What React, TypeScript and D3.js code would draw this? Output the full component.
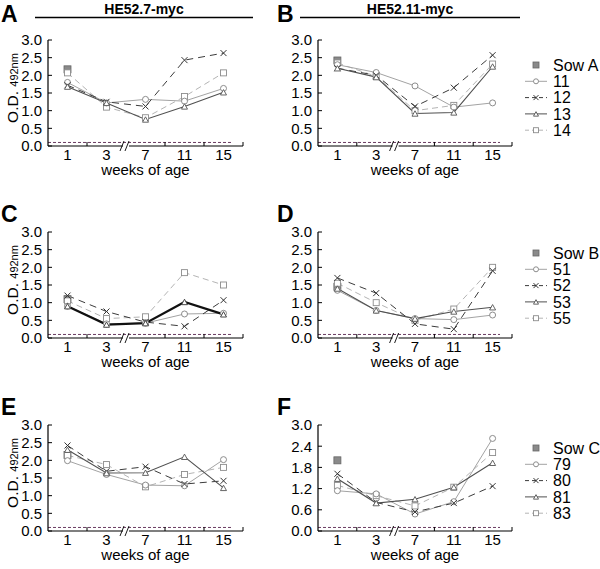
import * as d3 from "d3"

const weeks = ["1", "3", "7", "11", "15"]
const pigsA = ["11", "12", "13", "14"]
const pigsB = ["51", "52", "53", "55"]
const pigsC = ["79", "80", "81", "83"]
const sowNames = ["Sow A", "Sow B", "Sow C"]
const vaccines = ["HE52.7-myc", "HE52.11-myc"]
const letters = ["A", "B", "C", "D", "E", "F"]

// one row per pig, one value per week
const panelA = [
  [1.8, 1.22, 1.32, 1.27, 1.63],
  [1.72, 1.25, 1.12, 2.43, 2.63],
  [1.68, 1.22, 0.75, 1.12, 1.52],
  [2.07, 1.1, 0.8, 1.4, 2.07],
]
const panelB = [
  [2.3, 2.08, 1.7, 1.1, 1.22],
  [2.2, 2.0, 1.12, 1.65, 2.57],
  [2.2, 1.95, 0.92, 0.95, 2.25],
  [2.35, 1.97, 1.0, 1.15, 2.32],
]
const panelC = [
  [0.9, 0.4, 0.42, 0.68, 0.7],
  [1.2, 0.75, 0.45, 0.33, 1.07],
  [0.9, 0.38, 0.42, 1.02, 0.67],
  [1.05, 0.55, 0.6, 1.85, 1.5],
]
const panelD = [
  [1.35, 0.78, 0.55, 0.52, 0.65],
  [1.7, 1.27, 0.4, 0.25, 1.9],
  [1.4, 0.78, 0.55, 0.75, 0.87],
  [1.55, 1.0, 0.5, 0.82, 2.0],
]
const panelE = [
  [1.99, 1.6, 1.3, 1.28, 2.02],
  [2.42, 1.69, 1.82, 1.33, 1.42],
  [2.3, 1.64, 1.65, 2.1, 1.22],
  [2.14, 1.88, 1.25, 1.6, 1.8],
]
const panelF = [
  [1.14, 1.05, 0.48, 0.83, 2.62],
  [1.62, 0.81, 0.54, 0.79, 1.27],
  [1.48, 0.79, 0.9, 1.24, 1.93],
  [1.29, 1.0, 0.71, 1.24, 2.22],
]
const sowValues = [2.17, 2.42, 1.1, 1.45, 2.15, 2.0]
const cutoff = 0.1
const yTicksHalf = [0, 0.5, 1, 1.5, 2, 2.5, 3]
const yTicksF = [0, 0.6, 1.2, 1.8, 2.4, 3]

const FONT = "'Liberation Sans', Arial, sans-serif"

type Style = { stroke: string; dash?: string; width: number; marker: string; mstroke: string }
const styles: Style[] = [
  { stroke: "#a3a3a3", width: 1, marker: "circle", mstroke: "#808080" },
  { stroke: "#3c3c3c", dash: "7,5", width: 1, marker: "x", mstroke: "#333" },
  { stroke: "#505050", width: 1.1, marker: "triangle", mstroke: "#555" },
  { stroke: "#b4b4b4", dash: "6,4", width: 1, marker: "square", mstroke: "#8c8c8c" },
]

const Marker = ({ type, x, y, s, color }: { type: string; x: number; y: number; s: number; color: string }) => {
  if (type === "circle") return <circle cx={x} cy={y} r={s / 2} fill="#fff" stroke={color} strokeWidth={0.9} />
  if (type === "square") return <rect x={x - s / 2} y={y - s / 2} width={s} height={s} fill="#fff" stroke={color} strokeWidth={0.9} />
  if (type === "triangle") {
    const h = s * 0.9
    return <path d={`M${x},${y - h / 2}L${x + s / 2},${y + h / 2}L${x - s / 2},${y + h / 2}Z`} fill="#fff" stroke={color} strokeWidth={0.9} />
  }
  const r = s / 2
  return <path d={`M${x - r},${y - r}L${x + r},${y + r}M${x - r},${y + r}L${x + r},${y - r}`} stroke={color} strokeWidth={1} />
}

type PanelProps = {
  x0: number
  x1: number
  top: number
  data: number[][]
  sow: number
  ticks: number[]
  letter: string
  letterX: number
  letterY: number
  thickIdx?: number
  showYLabel: boolean
}

const Panel = ({ x0, x1, top, data, sow, ticks, letter, letterX, letterY, thickIdx, showYLabel }: PanelProps) => {
  const bottom = top + 106
  const x = d3.scaleBand<string>().domain(weeks).range([x0, x1]).padding(0)
  const y = d3.scaleLinear().domain([0, 3]).range([bottom, top])
  const cx = (w: string) => (x(w) as number) + x.bandwidth() / 2
  const line = d3.line<number>().x((_, i) => cx(weeks[i])).y(d => y(d))
  const bx = x("7") as number
  const order = [3, 0, 1, 2]
  return (
    <g fontFamily={FONT}>
      <text x={letterX} y={letterY} fontSize={23} fontWeight="bold">{letter}</text>
      {showYLabel && (
        <text transform={`translate(18,${top + 48}) rotate(-90)`} textAnchor="middle" fontSize={15.5}>
          O.D. <tspan fontSize={11}>492nm</tspan>
        </text>
      )}
      <line x1={x0} x2={x1 - 12} y1={y(cutoff)} y2={y(cutoff)} stroke="#6a3c62" strokeDasharray="3,2" strokeWidth={1} />
      {/* axes */}
      <line x1={x0} x2={x0} y1={top} y2={bottom} stroke="#000" strokeWidth={1.2} />
      <line x1={x0} x2={bx - 3} y1={bottom} y2={bottom} stroke="#000" strokeWidth={1.2} />
      <line x1={bx + 3} x2={x1} y1={bottom} y2={bottom} stroke="#000" strokeWidth={1.2} />
      <path d={`M${bx - 6},${bottom + 5}L${bx - 2},${bottom - 5}M${bx - 1},${bottom + 5}L${bx + 3},${bottom - 5}`} stroke="#000" strokeWidth={0.9} fill="none" />
      {weeks.slice(1).map(w => w === "7" ? null : (
        <line key={w} x1={x(w) as number} x2={x(w) as number} y1={bottom} y2={bottom - 4} stroke="#000" strokeWidth={1} />
      ))}
      <line x1={x1} x2={x1} y1={bottom} y2={bottom - 4} stroke="#000" strokeWidth={1} />
      {ticks.map(t => (
        <g key={t}>
          <line x1={x0} x2={x0 + 4} y1={y(t)} y2={y(t)} stroke="#000" strokeWidth={1} />
          <text x={x0 - 6} y={y(t)} dy="0.36em" textAnchor="end" fontSize={15}>{t.toFixed(1)}</text>
        </g>
      ))}
      {weeks.map(w => (
        <text key={w} x={cx(w)} y={bottom + 14} textAnchor="middle" fontSize={15}>{w}</text>
      ))}
      <text x={(x0 + x1) / 2} y={bottom + 29} textAnchor="middle" fontSize={15}>weeks of age</text>
      {/* series */}
      {order.map(i => (
        <path key={"l" + i} d={line(data[i]) as string} fill="none" stroke={i === thickIdx ? "#111" : styles[i].stroke}
          strokeWidth={i === thickIdx ? 2.2 : styles[i].width} strokeDasharray={styles[i].dash} />
      ))}
      <rect x={cx("1") - 3.5} y={y(sow) - 3.5} width={7} height={7} fill="#8a8a8a" stroke="#666" strokeWidth={0.8} />
      {order.map(i => data[i].map((v, j) => (
        <Marker key={`m${i}-${j}`} type={styles[i].marker} x={cx(weeks[j])} y={y(v)} s={6} color={i === thickIdx ? "#333" : styles[i].mstroke} />
      )))}
    </g>
  )
}

const Legend = ({ top, sowName, pigs }: { top: number; sowName: string; pigs: string[] }) => {
  const step = 16.3
  return (
    <g fontFamily={FONT}>
      <rect x={533} y={top - 3} width={6} height={6} fill="#8a8a8a" stroke="#666" strokeWidth={0.8} />
      <text x={553} y={top} dy="0.36em" fontSize={16}>{sowName}</text>
      {pigs.map((p, i) => {
        const yy = top + step * (i + 1)
        return (
          <g key={p}>
            <line x1={525} x2={547} y1={yy} y2={yy} stroke={styles[i].stroke} strokeWidth={1} strokeDasharray={styles[i].dash ? "4,3" : undefined} />
            <Marker type={styles[i].marker} x={536} y={yy} s={5} color={styles[i].mstroke} />
            <text x={553} y={yy} dy="0.36em" fontSize={16}>{p}</text>
          </g>
        )
      })}
    </g>
  )
}

export default function App() {
  const rows = [40, 232, 425]
  const panels = [panelA, panelB, panelC, panelD, panelE, panelF]
  const legends = [pigsA, pigsB, pigsC]
  return (
    <svg width={600} height={569} style={{ position: "absolute", left: 0, top: 0, background: "#fff" }}>
      {vaccines.map((v, i) => {
        const l = i === 0 ? 35 : 300
        const r = i === 0 ? 253 : 520
        return (
          <g key={v} fontFamily={FONT}>
            <text x={(l + r) / 2} y={14} textAnchor="middle" fontSize={14} fontWeight="bold">{v}</text>
            <line x1={l} x2={r} y1={17.5} y2={17.5} stroke="#000" strokeWidth={1.3} />
          </g>
        )
      })}
      {panels.map((d, k) => {
        const row = Math.floor(k / 2)
        const col = k % 2
        return (
          <Panel key={k}
            x0={col === 0 ? 48 : 318}
            x1={col === 0 ? 243 : 512}
            top={rows[row]}
            data={d}
            sow={sowValues[k]}
            ticks={k === 5 ? yTicksF : yTicksHalf}
            letter={letters[k]}
            letterX={col === 0 ? 1 : 277}
            letterY={row === 0 ? 22 : rows[row] - 10}
            thickIdx={k === 2 ? 2 : undefined}
            showYLabel={col === 0}
          />
        )
      })}
      {legends.map((p, i) => (
        <Legend key={i} top={[65, 253, 448][i]} sowName={sowNames[i]} pigs={p} />
      ))}
    </svg>
  )
}
